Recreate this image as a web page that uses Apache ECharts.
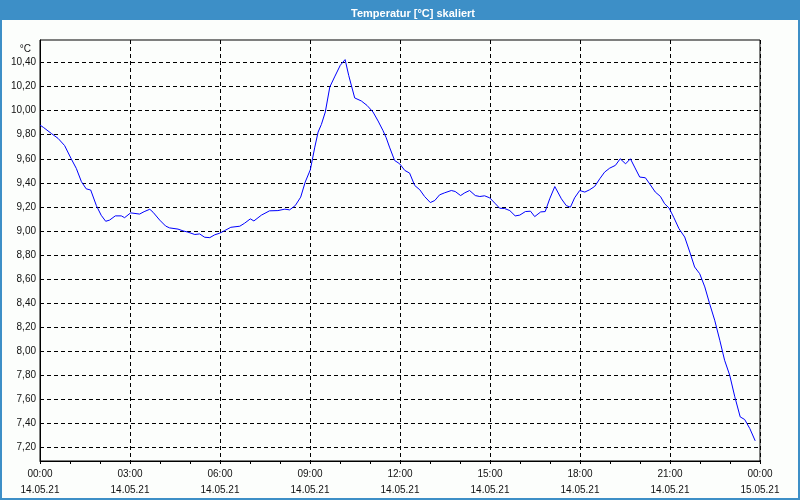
<!DOCTYPE html>
<html>
<head>
<meta charset="utf-8">
<script src="https://cdn.jsdelivr.net/npm/echarts@6/dist/echarts.min.js"></script>
<style>
html,body{margin:0;padding:0;background:#fcfefc;}
#chart{width:800px;height:500px;}
</style>
</head>
<body>
<div id="chart"></div>
<script>
// ---- data ----
const hours = [
 0.00,0.12,0.38,0.60,0.82,1.04,1.21,1.38,1.54,1.69,1.88,2.04,2.19,2.32,2.51,2.71,2.82,3.02,3.32,3.47,
 3.66,3.77,3.99,4.19,4.32,4.60,4.77,4.93,5.16,5.32,5.49,5.66,5.82,5.99,6.16,6.36,6.66,6.82,7.01,7.13,
 7.38,7.65,7.93,8.16,8.32,8.51,8.69,8.84,9.01,9.16,9.27,9.38,9.51,9.66,9.82,10.01,10.17,10.29,10.49,10.71,
 10.90,11.10,11.27,11.43,11.54,11.65,11.82,11.99,12.16,12.32,12.49,12.66,12.82,13.01,13.16,13.32,13.49,13.71,13.84,14.02,
 14.16,14.32,14.51,14.66,14.82,14.99,15.16,15.32,15.49,15.66,15.84,15.99,16.18,16.35,16.49,16.69,16.84,16.99,17.16,17.38,
 17.54,17.68,17.82,17.99,18.16,18.32,18.49,18.66,18.82,18.99,19.18,19.34,19.52,19.68,19.82,19.99,20.18,20.32,20.51,20.68,
 20.82,20.97,21.13,21.30,21.49,21.66,21.82,21.99,22.16,22.32,22.49,22.66,22.82,22.99,23.16,23.34,23.49,23.66,23.84
];
const temps = [
 9.88,9.86,9.81,9.77,9.71,9.60,9.52,9.41,9.35,9.34,9.21,9.13,9.08,9.09,9.125,9.125,9.11,9.15,9.14,9.16,
 9.18,9.155,9.09,9.04,9.025,9.015,9.00,8.99,8.97,8.975,8.947,8.944,8.967,8.981,9.003,9.03,9.039,9.064,9.10,9.083,
 9.131,9.167,9.169,9.181,9.175,9.211,9.281,9.406,9.508,9.697,9.822,9.886,9.989,10.197,10.281,10.378,10.425,10.294,10.106,10.081,
 10.044,9.989,9.914,9.836,9.775,9.697,9.586,9.558,9.503,9.481,9.378,9.342,9.286,9.236,9.253,9.30,9.317,9.336,9.328,9.294,
 9.317,9.336,9.294,9.286,9.292,9.275,9.231,9.189,9.186,9.169,9.125,9.131,9.161,9.164,9.119,9.158,9.161,9.267,9.369,9.267,
 9.211,9.197,9.275,9.336,9.323,9.342,9.37,9.434,9.489,9.522,9.545,9.60,9.558,9.60,9.531,9.448,9.442,9.392,9.323,9.287,
 9.226,9.19,9.11,9.018,8.949,8.824,8.70,8.644,8.534,8.395,8.257,8.09,7.924,7.80,7.62,7.453,7.431,7.356,7.254
];
const yTicks = [7.2,7.4,7.6,7.8,8.0,8.2,8.4,8.6,8.8,9.0,9.2,9.4,9.6,9.8,10.0,10.2,10.4];
const xTickHours = [0,3,6,9,12,15,18,21,24];
const xTickTimes = ['00:00','03:00','06:00','09:00','12:00','15:00','18:00','21:00','00:00'];
const xTickDates = ['14.05.21','14.05.21','14.05.21','14.05.21','14.05.21','14.05.21','14.05.21','14.05.21','15.05.21'];
const titleText = 'Temperatur [°C] skaliert';
const unitText = '°C';

const seriesData = hours.map((h, i) => [h, temps[i]]);
const FONT = "'Liberation Sans', Arial, sans-serif";

const chart = echarts.init(document.getElementById('chart'), null, {renderer: 'canvas'});
chart.setOption({
  backgroundColor: '#fcfefc',
  animation: false,
  graphic: [
    {type: 'rect', z: 0, silent: true, shape: {x: 0, y: 0, width: 800, height: 20}, style: {fill: '#3d8fc7'}},
    {type: 'rect', z: 0, silent: true, shape: {x: 1, y: 1, width: 798, height: 498}, style: {fill: 'none', stroke: '#3d8fc7', lineWidth: 2}}
  ],
  title: [
    {text: titleText, left: 408, top: 3, textAlign: 'center', z: 10,
     textStyle: {color: '#ffffff', fontSize: 11, fontWeight: 'bold', fontFamily: FONT}},
    {text: unitText, left: 26, top: 39, textAlign: 'right', z: 10,
     textStyle: {color: '#111', fontSize: 10, fontWeight: 'normal', fontFamily: FONT}}
  ],
  grid: {left: 40, right: 40, top: 40, bottom: 39, show: true, borderColor: '#000', borderWidth: 1, backgroundColor: 'transparent'},
  xAxis: {
    type: 'value', min: 0, max: 24, interval: 3,
    axisLine: {show: true, lineStyle: {color: '#000', width: 1}},
    axisTick: {show: true, length: 3, lineStyle: {color: '#000'}},
    minorTick: {show: true, splitNumber: 3, length: 3, lineStyle: {color: '#000'}},
    splitLine: {show: true, lineStyle: {color: '#000', type: [4, 3], width: 1}},
    axisLabel: {
      margin: 5, color: '#111', fontSize: 10, fontFamily: FONT, lineHeight: 16,
      formatter: function (v) {
        const i = xTickHours.indexOf(Math.round(v));
        return i >= 0 ? xTickTimes[i] + '\n' + xTickDates[i] : '';
      }
    }
  },
  yAxis: {
    type: 'value', min: 7.086, max: 10.588,
    axisLine: {show: true, lineStyle: {color: '#000', width: 1}},
    axisTick: {show: false, customValues: yTicks},
    splitLine: {show: true, lineStyle: {color: '#000', type: [4, 3], width: 1}},
    axisLabel: {
      customValues: yTicks, margin: 4, color: '#111', fontSize: 10, fontFamily: FONT,
      formatter: v => v.toFixed(2).replace('.', ',')
    }
  },
  series: [{
    type: 'line', data: seriesData, showSymbol: false, symbol: 'none',
    lineStyle: {color: '#0000ff', width: 1}, z: 5
  }]
});
</script>
</body>
</html>
